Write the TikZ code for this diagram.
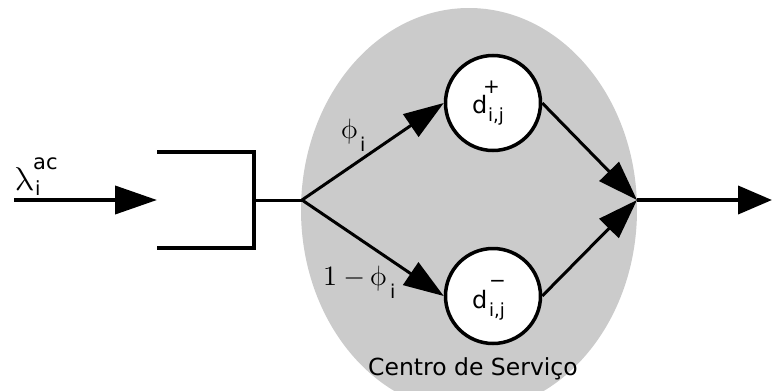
\documentclass[tikz,border=0pt]{standalone}
\usepackage[no-math]{fontspec}
\usepackage{graphicx}
\newfontfamily\dv{DejaVu Sans}
\usetikzlibrary{arrows.meta}
\definecolor{svcgray}{RGB}{203,203,203}
\tikzset{
  tri/.style={-{Triangle[length=40pt,width=27pt]}},
  thick line/.style={line width=4pt},
  branch/.style={line width=3pt},
  server/.style={circle, draw, fill=white, line width=3.5pt, minimum size=95pt, inner sep=0pt},
  lbl/.style={inner sep=0pt, anchor=base west},
  upright/.style={xslant=-0.22},
}
% text set at 10pt and enlarged by the given factor
\newcommand{\sans}[2]{\scalebox{#1}{\fontsize{10}{12}\selectfont\dv #2}}
\newcommand{\bigmath}[2]{\scalebox{#1}{\fontsize{10}{12}\selectfont$#2$}}
\begin{document}
\begin{tikzpicture}[x=1pt,y=-1pt]
  \useasboundingbox (0,0) rectangle (772,391);
  \clip (0,0) rectangle (772,391);

  % service centre
  \fill[svcgray] (469,210) ellipse [x radius=168, y radius=202];
  \node[lbl, anchor=base] (svc) at (473,375) {\sans{2.35}{Centro de Serviço}};

  % coordinates of the flow
  \coordinate (inStart) at (14,200);
  \coordinate (inEnd) at (157,200);
  \coordinate (bTopL) at (157,152);
  \coordinate (bTopR) at (254,152);
  \coordinate (bBotR) at (254,248);
  \coordinate (bBotL) at (157,248);
  \coordinate (bMid) at (254,200);
  \coordinate (split) at (302,200);
  \coordinate (merge) at (637,200);
  \coordinate (outEnd) at (772,200);

  % servers
  \node[server] (dplus) at (493,103) {};
  \node[server] (dminus) at (493,296) {};

  % arrival
  \draw[thick line, -{Triangle[length=42pt,width=28pt]}] (inStart) -- (inEnd);
  \draw[thick line, line join=miter] (bTopL) -- (bTopR) -- (bBotR) -- (bBotL);
  \draw[line width=3pt] (bMid) -- (split);

  % routing
  \draw[branch, tri] (split) -- (dplus.west);
  \draw[branch, tri] (split) -- (dminus.west);
  \draw[branch, tri] (dplus.east) -- (merge);
  \draw[branch, tri] (dminus.east) -- (merge);

  % departure
  \draw[thick line, -{Triangle[length=34pt,width=28pt]}] (merge) -- (outEnd);

  % arrival rate label
  \node[lbl, upright] (lam) at (15,190) {\bigmath{3.3}{\lambda}};
  \node[lbl] (lamsup) at (33,169) {\sans{2.1}{ac}};
  \node[lbl] (lamsub) at (35,195) {\sans{1.95}{i}};

  % routing probabilities
  \node[lbl, upright] (phiU) at (342,138) {\bigmath{2.8}{\phi}};
  \node[lbl] (phiUsub) at (360,151) {\sans{1.9}{i}};
  \node[lbl] (oneMinus) at (323,285) {\bigmath{2.8}{1-{}}};
  \node[lbl, upright] (phiL) at (371,285) {\bigmath{2.8}{\phi}};
  \node[lbl] (phiLsub) at (390,298) {\sans{1.9}{i}};

  % server labels
  \node[lbl] (dp) at (472,113) {\sans{2.4}{d}};
  \node[lbl] (dpsub) at (488,121) {\sans{1.8}{i,j}};
  \node[lbl] (dpsup) at (483,93) {\sans{2.0}{+}};
  \node[lbl] (dm) at (472,308) {\sans{2.4}{d}};
  \node[lbl] (dmsub) at (489,316) {\sans{1.8}{i,j}};
  \node[lbl] (dmsup) at (489,287) {\sans{2.0}{−}};
\end{tikzpicture}
\end{document}
